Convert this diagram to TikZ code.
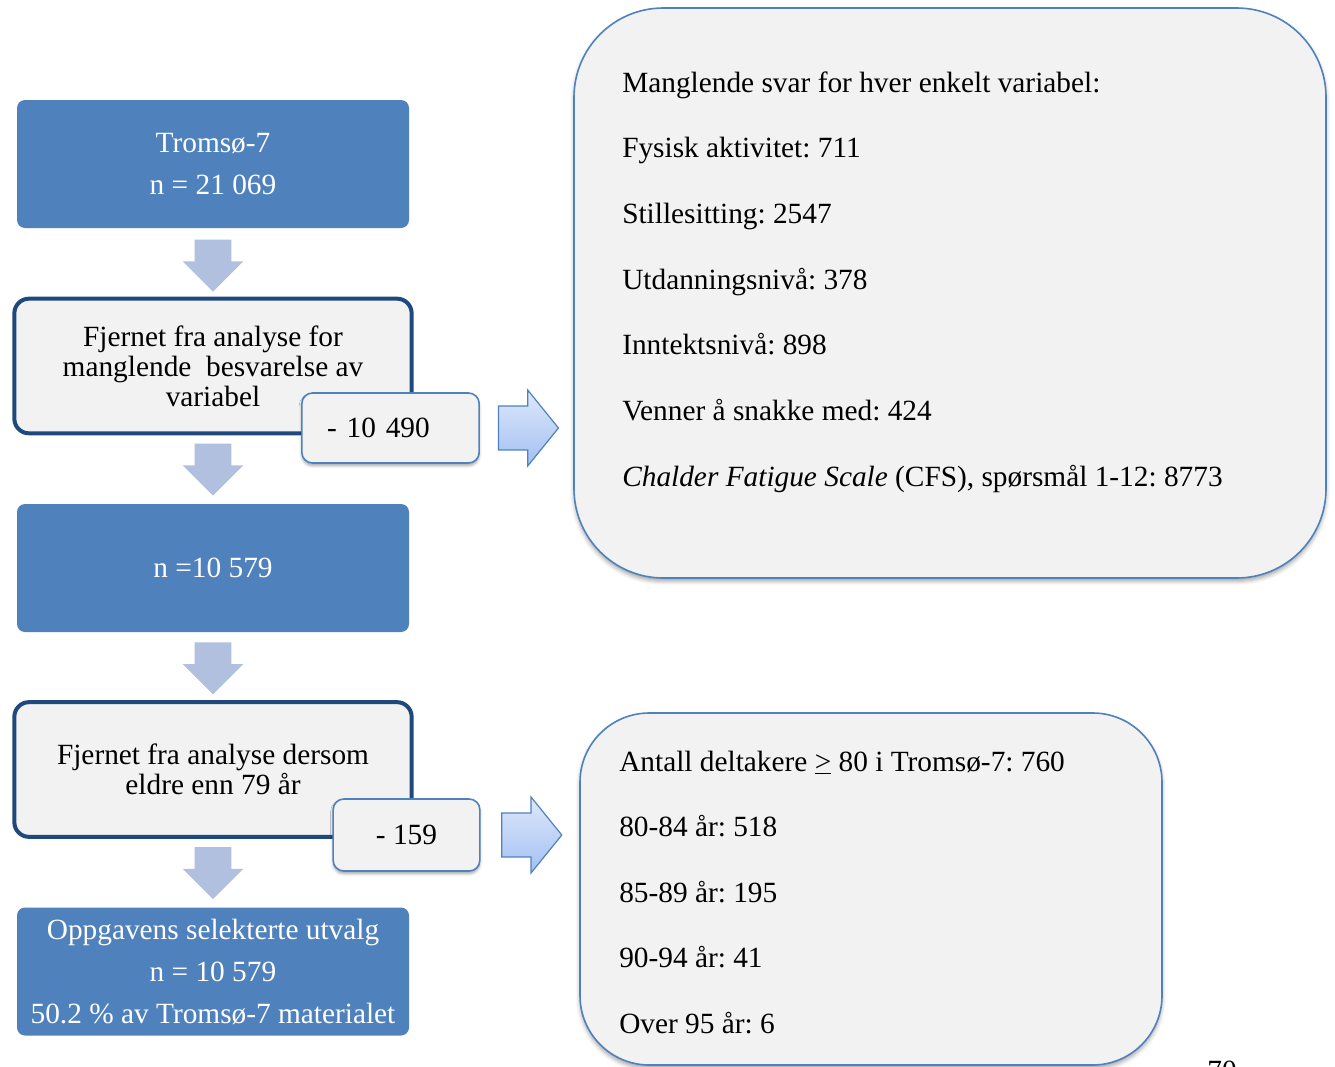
\documentclass[tikz,border=0pt]{standalone}
\usepackage{fontspec}
\setmainfont{Liberation Serif}
\usepackage{tikz}
\usetikzlibrary{
  positioning, arrows.meta, shapes.arrows, calc, shadows.blur
}
\definecolor{flowBlue}{HTML}{4F81BD}
\definecolor{flowNavy}{HTML}{1F497D}
\definecolor{flowGrey}{HTML}{F2F2F2}
\definecolor{flowArrow}{HTML}{B0C0DE}
\definecolor{flowLight}{HTML}{DEE8FB}
\definecolor{flowSky}{HTML}{A3C0F2}
\frenchspacing

\begin{document}
\begin{tikzpicture}[
  x=0.75pt, y=-0.75pt,
  every node/.style={font=\fontsize{22}{26}\selectfont},
  bluebox/.style={
    rectangle, rounded corners=6pt,
    minimum width=294pt, minimum height=96pt,
    fill=flowBlue, text=white,
    font=\fontsize{22}{31.5}\selectfont, align=center
  },
  greybox/.style={
    rectangle, rounded corners=11pt,
    minimum width=298pt, minimum height=101pt,
    draw=flowNavy, line width=3pt, fill=flowGrey,
    font=\fontsize{22}{22.5}\selectfont, align=center
  },
  countbox/.style={
    rectangle, rounded corners=8pt,
    draw=flowBlue, line width=1.2pt, fill=flowGrey,
    blur shadow={shadow xshift=0pt, shadow yshift=-2pt, shadow blur radius=2pt, shadow opacity=35}
  },
  listbox/.style={
    rectangle, rounded corners=#1,
    draw=flowBlue, line width=1.2pt, fill=flowGrey,
    blur shadow={shadow xshift=0pt, shadow yshift=-2.5pt, shadow blur radius=3pt, shadow opacity=35}
  },
  downarrow/.style={
    single arrow, rotate=-90,
    minimum height=39pt, inner xsep=0pt, inner ysep=13.5pt,
    single arrow head extend=9pt, single arrow tip angle=90,
    fill=flowArrow
  },
  sidearrow/.style={
    single arrow,
    minimum height=45pt, inner xsep=0pt, inner ysep=16pt,
    single arrow head extend=12pt, single arrow tip angle=102,
    top color=flowLight, bottom color=flowSky, draw=flowBlue, line width=0.9pt
  },
  listtext/.style={anchor=base west, inner sep=0pt}
]
\useasboundingbox (0,0) rectangle (1335,1067);

% Flow boxes on the left
\node[bluebox] (tromso) at (213,164) {Tromsø-7\\n = 21 069};
\node[greybox] (fjernA) at (213,366) {Fjernet fra analyse for\\manglende\ \ besvarelse av\\variabel};
\node[bluebox] (utvalgA) at (213,568) {n =10 579};
\node[greybox] (fjernB) at (213,769.5) {Fjernet fra analyse dersom\\eldre enn 79 år};
\node[bluebox] (utvalgB) at (213,971.5) {Oppgavens selekterte utvalg\\n = 10 579\\50.2 \% av Tromsø-7 materialet};

% Counts removed
\node[countbox, minimum width=133pt, minimum height=52.5pt, inner xsep=18.75pt,
  text width=95pt, align=left] (countA) at (390.5,428) {- 10 490};
\node[countbox, minimum width=110pt, minimum height=54pt] (countB) at (406.5,835) {- 159};

% Down arrows
\node[downarrow] (pilA) at ($(tromso.south)!0.5!(fjernA.north)+(0,-6)$) {};
\node[downarrow] (pilB) at ($(fjernA.south)!0.5!(utvalgA.north)+(0,-9)$) {};
\node[downarrow] (pilC) at ($(utvalgA.south)!0.5!(fjernB.north)+(0,-7)$) {};
\node[downarrow] (pilD) at ($(fjernB.south)!0.5!(utvalgB.north)+(0,-9)$) {};

% Detail boxes on the right
\node[listbox=67pt, minimum width=564pt, minimum height=427.5pt] (missbox) at (950,293) {};
\node[listbox=52pt, minimum width=436.5pt, minimum height=264pt] (agebox) at (871,889) {};

% Side arrows
\node[sidearrow] (pilE) at ($(countA.east)!0.5!(countA.east -| missbox.west)+(-7,0)$) {};
\node[sidearrow] (pilF) at ($(countB.east)!0.5!(countB.east -| agebox.west)+(-7,0)$) {};

% Missing answers per variable
\foreach \txt [count=\i] in {
  Manglende svar for hver enkelt variabel:,
  Fysisk aktivitet: 711,
  Stillesitting: 2547,
  Utdanningsnivå: 378,
  Inntektsnivå: 898,
  Venner å snakke med: 424,
  {\textit{Chalder Fatigue Scale} (CFS), spørsmål 1-12: 8773}} {
  \node[listtext] (miss\i) at (622,{92+65.7*(\i-1)}) {\txt};
}

% Participants over 79
\foreach \txt [count=\i] in {
  Antall deltakere \underline{>} 80 i Tromsø-7: 760,
  80-84 år: 518,
  85-89 år: 195,
  90-94 år: 41,
  Over 95 år: 6} {
  \node[listtext] (age\i) at (619,{771+65.5*(\i-1)}) {\txt};
}

% Page number
\node[anchor=base] (side) at (1222,1080) {70};

\end{tikzpicture}
\end{document}
